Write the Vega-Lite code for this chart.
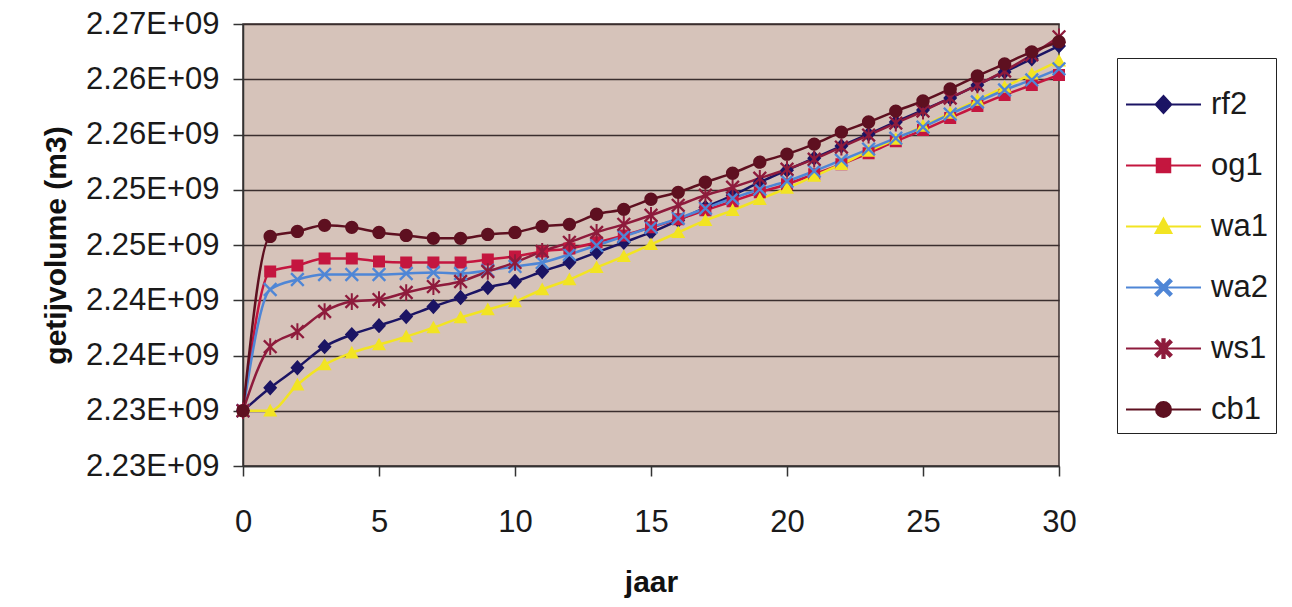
{
  "$schema": "https://vega.github.io/schema/vega-lite/v6.json",
  "width": 816,
  "height": 442,
  "autosize": "none",
  "padding": {"left": 243, "top": 24, "right": 233, "bottom": 141},
  "background": "white",
  "config": {
    "font": "Liberation Sans",
    "view": {"fill": "#D6C3BA", "stroke": "#3A2E2E", "strokeWidth": 1.5}
  },
  "data": {
    "values": [
      {"jaar": 0, "rf2": 2230000000, "og1": 2230000000, "wa1": 2230000000, "wa2": 2230000000, "ws1": 2230000000, "cb1": 2230000000},
      {"jaar": 1, "rf2": 2232080000, "og1": 2242600000, "wa1": 2230000000, "wa2": 2240970000, "ws1": 2235800000, "cb1": 2245780000},
      {"jaar": 2, "rf2": 2233890000, "og1": 2243150000, "wa1": 2232350000, "wa2": 2241880000, "ws1": 2237160000, "cb1": 2246230000},
      {"jaar": 3, "rf2": 2235800000, "og1": 2243780000, "wa1": 2234170000, "wa2": 2242330000, "ws1": 2238980000, "cb1": 2246780000},
      {"jaar": 4, "rf2": 2236890000, "og1": 2243780000, "wa1": 2235250000, "wa2": 2242330000, "ws1": 2239880000, "cb1": 2246600000},
      {"jaar": 5, "rf2": 2237700000, "og1": 2243510000, "wa1": 2235980000, "wa2": 2242330000, "ws1": 2240060000, "cb1": 2246140000},
      {"jaar": 6, "rf2": 2238520000, "og1": 2243420000, "wa1": 2236710000, "wa2": 2242420000, "ws1": 2240700000, "cb1": 2245870000},
      {"jaar": 7, "rf2": 2239430000, "og1": 2243420000, "wa1": 2237520000, "wa2": 2242510000, "ws1": 2241240000, "cb1": 2245600000},
      {"jaar": 8, "rf2": 2240250000, "og1": 2243420000, "wa1": 2238430000, "wa2": 2242420000, "ws1": 2241700000, "cb1": 2245600000},
      {"jaar": 9, "rf2": 2241150000, "og1": 2243690000, "wa1": 2239160000, "wa2": 2242700000, "ws1": 2242600000, "cb1": 2245960000},
      {"jaar": 10, "rf2": 2241700000, "og1": 2243970000, "wa1": 2239880000, "wa2": 2243060000, "ws1": 2243420000, "cb1": 2246140000},
      {"jaar": 11, "rf2": 2242600000, "og1": 2244420000, "wa1": 2240970000, "wa2": 2243420000, "ws1": 2244420000, "cb1": 2246690000},
      {"jaar": 12, "rf2": 2243420000, "og1": 2244690000, "wa1": 2241880000, "wa2": 2244150000, "ws1": 2245240000, "cb1": 2246870000},
      {"jaar": 13, "rf2": 2244330000, "og1": 2245240000, "wa1": 2242970000, "wa2": 2244960000, "ws1": 2246140000, "cb1": 2247780000},
      {"jaar": 14, "rf2": 2245240000, "og1": 2245870000, "wa1": 2243970000, "wa2": 2245780000, "ws1": 2246870000, "cb1": 2248230000},
      {"jaar": 15, "rf2": 2246140000, "og1": 2246600000, "wa1": 2245050000, "wa2": 2246600000, "ws1": 2247690000, "cb1": 2249140000},
      {"jaar": 16, "rf2": 2247230000, "og1": 2247320000, "wa1": 2246140000, "wa2": 2247410000, "ws1": 2248590000, "cb1": 2249770000},
      {"jaar": 17, "rf2": 2248410000, "og1": 2248140000, "wa1": 2247230000, "wa2": 2248320000, "ws1": 2249500000, "cb1": 2250680000},
      {"jaar": 18, "rf2": 2249500000, "og1": 2248960000, "wa1": 2248140000, "wa2": 2249230000, "ws1": 2250230000, "cb1": 2251500000},
      {"jaar": 19, "rf2": 2250680000, "og1": 2249770000, "wa1": 2249140000, "wa2": 2250050000, "ws1": 2251040000, "cb1": 2252500000},
      {"jaar": 20, "rf2": 2251770000, "og1": 2250500000, "wa1": 2250140000, "wa2": 2250770000, "ws1": 2251860000, "cb1": 2253220000},
      {"jaar": 21, "rf2": 2252860000, "og1": 2251410000, "wa1": 2251230000, "wa2": 2251680000, "ws1": 2252770000, "cb1": 2254130000},
      {"jaar": 22, "rf2": 2253950000, "og1": 2252310000, "wa1": 2252310000, "wa2": 2252680000, "ws1": 2253860000, "cb1": 2255220000},
      {"jaar": 23, "rf2": 2255040000, "og1": 2253310000, "wa1": 2253490000, "wa2": 2253680000, "ws1": 2254950000, "cb1": 2256130000},
      {"jaar": 24, "rf2": 2256130000, "og1": 2254400000, "wa1": 2254580000, "wa2": 2254670000, "ws1": 2256030000, "cb1": 2257120000},
      {"jaar": 25, "rf2": 2257210000, "og1": 2255400000, "wa1": 2255760000, "wa2": 2255670000, "ws1": 2257120000, "cb1": 2258030000},
      {"jaar": 26, "rf2": 2258300000, "og1": 2256490000, "wa1": 2256940000, "wa2": 2256850000, "ws1": 2258300000, "cb1": 2259120000},
      {"jaar": 27, "rf2": 2259480000, "og1": 2257580000, "wa1": 2258120000, "wa2": 2257940000, "ws1": 2259480000, "cb1": 2260300000},
      {"jaar": 28, "rf2": 2260660000, "og1": 2258580000, "wa1": 2259300000, "wa2": 2259030000, "ws1": 2260750000, "cb1": 2261390000},
      {"jaar": 29, "rf2": 2261840000, "og1": 2259480000, "wa1": 2260480000, "wa2": 2259940000, "ws1": 2262210000, "cb1": 2262480000},
      {"jaar": 30, "rf2": 2263020000, "og1": 2260390000, "wa1": 2261660000, "wa2": 2260940000, "ws1": 2263840000, "cb1": 2263390000}
    ]
  },
  "transform": [
    {"fold": ["rf2", "og1", "wa1", "wa2", "ws1", "cb1"], "as": ["reeks", "volume"]}
  ],
  "encoding": {
    "x": {
      "field": "jaar",
      "type": "quantitative",
      "scale": {"domain": [0, 30], "nice": false, "zero": false},
      "axis": {
        "values": [0, 5, 10, 15, 20, 25, 30],
        "grid": false,
        "title": "jaar",
        "titleFont": "Liberation Sans",
        "titleFontSize": 30,
        "titleFontWeight": "bold",
        "titleColor": "#111111",
        "titlePadding": 30,
        "labelFont": "Liberation Sans",
        "labelFontSize": 31,
        "labelColor": "#1a1a1a",
        "labelPadding": 31,
        "labelFlush": false,
        "tickSize": 10,
        "tickColor": "#333333",
        "tickWidth": 1.5,
        "domainColor": "#333333",
        "domainWidth": 1.5
      }
    },
    "y": {
      "field": "volume",
      "type": "quantitative",
      "scale": {"domain": [2225000000, 2265000000], "nice": false, "zero": false},
      "axis": {
        "values": [2225000000, 2230000000, 2235000000, 2240000000, 2245000000, 2250000000, 2255000000, 2260000000, 2265000000],
        "labelExpr": "format(datum.value / 1e9 + 1e-9, '.2f') + 'E+09'",
        "grid": true,
        "gridColor": "#3A2E2E",
        "gridWidth": 1.5,
        "title": "getijvolume (m3)",
        "titleFont": "Liberation Sans",
        "titleFontSize": 30,
        "titleFontWeight": "bold",
        "titleColor": "#111111",
        "titlePadding": 14,
        "labelFont": "Liberation Sans",
        "labelFontSize": 31,
        "labelColor": "#1a1a1a",
        "labelPadding": 14,
        "labelFlush": false,
        "tickSize": 10,
        "tickColor": "#333333",
        "tickWidth": 1.5,
        "domainColor": "#333333",
        "domainWidth": 1.5
      }
    },
    "color": {
      "field": "reeks",
      "type": "nominal",
      "scale": {
        "domain": ["rf2", "og1", "wa1", "wa2", "ws1", "cb1"],
        "range": ["#1B1464", "#C4163F", "#F2E422", "#4F86D6", "#8E1B3C", "#5E1020"]
      },
      "legend": {
        "title": null,
        "orient": "none",
        "legendX": 874,
        "legendY": 34,
        "padding": 8,
        "fillColor": "white",
        "strokeColor": "#222222",
        "labelFont": "Liberation Sans",
        "labelFontSize": 31,
        "labelColor": "#1a1a1a",
        "labelOffset": 9,
        "rowPadding": 7,
        "symbolSize": 5625,
        "symbolStrokeWidth": 2,
        "symbolOpacity": 1
      }
    }
  },
  "layer": [
    {
      "mark": {"type": "line", "strokeWidth": 2.5, "interpolate": "monotone"}
    },
    {
      "mark": {"type": "point", "filled": true, "size": 4444, "opacity": 1},
      "encoding": {
        "strokeWidth": {"value": 0},
        "shape": {
          "field": "reeks",
          "type": "nominal",
          "scale": {
            "domain": ["rf2", "og1", "wa1", "wa2", "ws1", "cb1"],
            "range": [
              "M-1,0L1,0M-0.21,0L0,-0.23L0.21,0L0,0.23Z",
              "M-1,0L1,0M-0.18,-0.18L0.18,-0.18L0.18,0.18L-0.18,0.18Z",
              "M-1,0L1,0M0,-0.21L0.21,0.17L-0.21,0.17Z",
              "M-1,0L1,0M-0.165,-0.215L0.215,0.165L0.165,0.215L-0.215,-0.165ZM-0.215,0.165L0.165,-0.215L0.215,-0.165L-0.165,0.215Z",
              "M-1,0L1,0M-0.165,-0.215L0.215,0.165L0.165,0.215L-0.215,-0.165ZM-0.215,0.165L0.165,-0.215L0.215,-0.165L-0.165,0.215ZM-0.03,-0.25L0.03,-0.25L0.03,0.25L-0.03,0.25Z",
              "M-1,0L1,0M-0.2,0A0.2,0.2,0,1,0,0.2,0A0.2,0.2,0,1,0,-0.2,0Z"
            ]
          },
          "legend": null
        },
        "stroke": {
          "field": "reeks",
          "type": "nominal",
          "scale": {
            "domain": ["rf2", "og1", "wa1", "wa2", "ws1", "cb1"],
            "range": ["#1B1464", "#C4163F", "#F2E422", "#4F86D6", "#8E1B3C", "#5E1020"]
          },
          "legend": null
        }
      }
    }
  ]
}
